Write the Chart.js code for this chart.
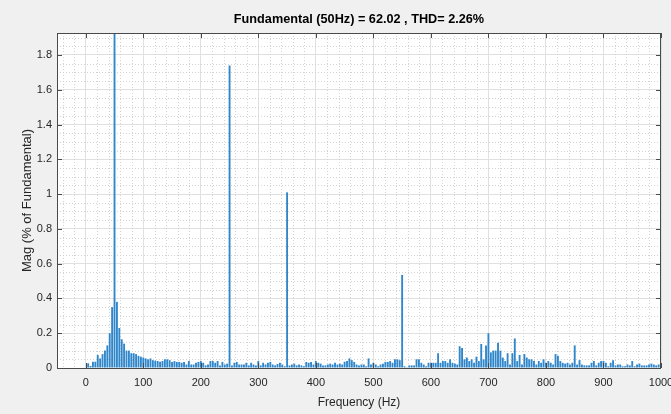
<!DOCTYPE html>
<html>
<head>
<meta charset="utf-8">
<script src="https://cdn.jsdelivr.net/npm/chart.js@4.4.1/dist/chart.umd.min.js"></script>
<style>
  html, body { margin: 0; padding: 0; background: #f0f0f0; }
  #wrap { width: 671px; height: 414px; }
</style>
</head>
<body>
<div id="wrap"><canvas id="fftChart" width="671" height="414"></canvas></div>
<script>
const titleText = 'Fundamental (50Hz) = 62.02 , THD= 2.26%';
const xLabel = 'Frequency (Hz)';
const yLabel = 'Mag (% of Fundamental)';

// spectrum bins are 50/12 Hz apart; one row per 50 Hz
const binHz = 50 / 12;
const mags = [
  0, 0.027, 0.012, 0.036, 0.036, 0.075, 0.055, 0.08, 0.1, 0.13, 0.2, 0.35,
  100, 0.38, 0.23, 0.165, 0.14, 0.1, 0.1, 0.085, 0.085, 0.08, 0.07, 0.065,
  0.06, 0.055, 0.05, 0.055, 0.045, 0.042, 0.04, 0.036, 0.04, 0.05, 0.05, 0.045,
  0.035, 0.04, 0.035, 0.035, 0.03, 0.035, 0.02, 0.04, 0.02, 0.02, 0.03, 0.035,
  0.04, 0.03, 0.015, 0.02, 0.04, 0.04, 0.03, 0.04, 0.015, 0.035, 0.02, 0.025,
  1.74, 0.015, 0.03, 0.035, 0.02, 0.02, 0.02, 0.03, 0.015, 0.03, 0.02, 0.015,
  0.04, 0.015, 0.03, 0.02, 0.03, 0.035, 0.02, 0.015, 0.023, 0.03, 0.02, 0.01,
  1.01, 0.015, 0.02, 0.025, 0.015, 0.02, 0.015, 0.01, 0.035, 0.03, 0.035, 0.02,
  0.04, 0.03, 0.025, 0.015, 0.015, 0.02, 0.025, 0.02, 0.03, 0.02, 0.025, 0.02,
  0.036, 0.04, 0.055, 0.045, 0.035, 0.02, 0.015, 0.02, 0.02, 0.01, 0.055, 0.02,
  0.03, 0.02, 0.01, 0.02, 0.025, 0.035, 0.035, 0.04, 0.03, 0.05, 0.05, 0.045,
  0.535, 0.01, 0.005, 0.015, 0.015, 0.015, 0.05, 0.05, 0.03, 0.02, 0.01, 0.03,
  0.03, 0.03, 0.03, 0.085, 0.03, 0.04, 0.04, 0.03, 0.05, 0.03, 0.025, 0.02,
  0.125, 0.115, 0.05, 0.06, 0.04, 0.05, 0.03, 0.065, 0.04, 0.138, 0.05, 0.13,
  0.2, 0.09, 0.1, 0.1, 0.145, 0.1, 0.06, 0.04, 0.085, 0.02, 0.085, 0.17,
  0.04, 0.075, 0.02, 0.08, 0.06, 0.05, 0.05, 0.04, 0.02, 0.04, 0.03, 0.05,
  0.03, 0.04, 0.03, 0.02, 0.08, 0.07, 0.04, 0.03, 0.025, 0.03, 0.02, 0.03,
  0.13, 0.02, 0.045, 0.02, 0.015, 0.015, 0.015, 0.03, 0.04, 0.015, 0.03, 0.04,
  0.04, 0.03, 0.01, 0.03, 0.045, 0.015, 0.02, 0.02, 0.01, 0.01, 0.02, 0.015,
  0.04, 0.01, 0.02, 0.025, 0.015, 0.015, 0.015, 0.02, 0.025, 0.02, 0.015, 0.02,
  0.015
];
const freqs = mags.map((_, i) => i * binHz);

const xTicks = [0, 100, 200, 300, 400, 500, 600, 700, 800, 900, 1000];
const yTicks = [0, 0.2, 0.4, 0.6, 0.8, 1, 1.2, 1.4, 1.6, 1.8];

const FONT = "'Liberation Sans', Arial, sans-serif";
const TEXT = '#262626';
Chart.defaults.font.family = FONT;
Chart.defaults.color = TEXT;

// white axes, dotted minor grid, inward ticks and the axes box
const axesBox = {
  id: 'axesBox',
  beforeDraw(chart) {
    const { ctx, chartArea: a } = chart;
    ctx.save();
    ctx.fillStyle = '#ffffff';
    ctx.fillRect(a.left, a.top, a.right - a.left, a.bottom - a.top);
    ctx.restore();
  },
  beforeDatasetsDraw(chart) {
    const { ctx, chartArea: a, scales: { x, y } } = chart;
    ctx.save();
    ctx.strokeStyle = '#d2d2d2';
    ctx.lineWidth = 1;
    ctx.setLineDash([1, 2]);
    ctx.beginPath();
    for (let k = -2; k <= 50; k++) {
      if (k % 5 === 0) continue;
      const px = Math.round(x.getPixelForValue(k * 20)) + 0.5;
      if (px <= a.left || px >= a.right) continue;
      ctx.moveTo(px, a.top);
      ctx.lineTo(px, a.bottom);
    }
    for (let k = 1; k * 0.05 < y.max; k++) {
      if (k % 4 === 0) continue;
      const py = Math.round(y.getPixelForValue(k * 0.05)) + 0.5;
      ctx.moveTo(a.left, py);
      ctx.lineTo(a.right, py);
    }
    ctx.stroke();
    ctx.restore();
  },
  afterDatasetsDraw(chart) {
    const { ctx, chartArea: a, scales: { x, y } } = chart;
    ctx.save();
    ctx.strokeStyle = '#4a4a4a';
    ctx.lineWidth = 1;
    ctx.beginPath();
    xTicks.forEach(v => {
      const px = Math.round(x.getPixelForValue(v)) + 0.5;
      ctx.moveTo(px, a.bottom); ctx.lineTo(px, a.bottom - 5);
      ctx.moveTo(px, a.top); ctx.lineTo(px, a.top + 5);
    });
    yTicks.forEach(v => {
      const py = Math.round(y.getPixelForValue(v)) + 0.5;
      ctx.moveTo(a.left, py); ctx.lineTo(a.left + 5, py);
      ctx.moveTo(a.right, py); ctx.lineTo(a.right - 5, py);
    });
    ctx.stroke();
    ctx.strokeRect(Math.round(a.left) + 0.5, Math.round(a.top) + 0.5,
      Math.round(a.right - a.left) - 1, Math.round(a.bottom - a.top));
    ctx.restore();
  }
};

new Chart(document.getElementById('fftChart'), {
  type: 'bar',
  data: {
    datasets: [{
      data: mags.map((m, i) => ({ x: freqs[i], y: m })),
      backgroundColor: '#2f86ca',
      borderWidth: 0,
      barPercentage: 0.78,
      categoryPercentage: 1,
      clip: 0
    }]
  },
  options: {
    responsive: false,
    animation: false,
    layout: { padding: { left: 0, right: 10, top: 0, bottom: 0 } },
    plugins: {
      legend: { display: false },
      tooltip: { enabled: false },
      title: {
        display: true,
        fullSize: false,
        text: titleText,
        color: '#000000',
        font: { size: 12.7, weight: 'bold' },
        padding: { top: 11.6, bottom: 6.2 }
      }
    },
    scales: {
      x: {
        type: 'linear',
        min: -50,
        max: 1000,
        offset: false,
        grid: { offset: false, color: '#e0e0e0', drawTicks: false },
        border: { display: false },
        ticks: { padding: 8, autoSkip: false, maxRotation: 0, font: { size: 11 }, callback: v => String(v) },
        afterBuildTicks: s => { s.ticks = xTicks.map(v => ({ value: v })); },
        afterFit: s => { s.height = 46; s.paddingLeft = 0; s.paddingRight = 0; },
        title: { display: true, text: xLabel, font: { size: 12 }, padding: { top: 0, bottom: 4 } }
      },
      y: {
        min: 0,
        max: 1.926,
        grid: { color: '#e0e0e0', drawTicks: false },
        border: { display: false },
        ticks: { padding: 5, autoSkip: false, font: { size: 11 }, callback: v => String(v) },
        afterBuildTicks: s => { s.ticks = yTicks.map(v => ({ value: v })); },
        afterFit: s => { s.width = 57; },
        title: { display: true, text: yLabel, font: { size: 13 }, padding: { top: 19.5, bottom: 0 } }
      }
    }
  },
  plugins: [axesBox]
});
</script>
</body>
</html>
